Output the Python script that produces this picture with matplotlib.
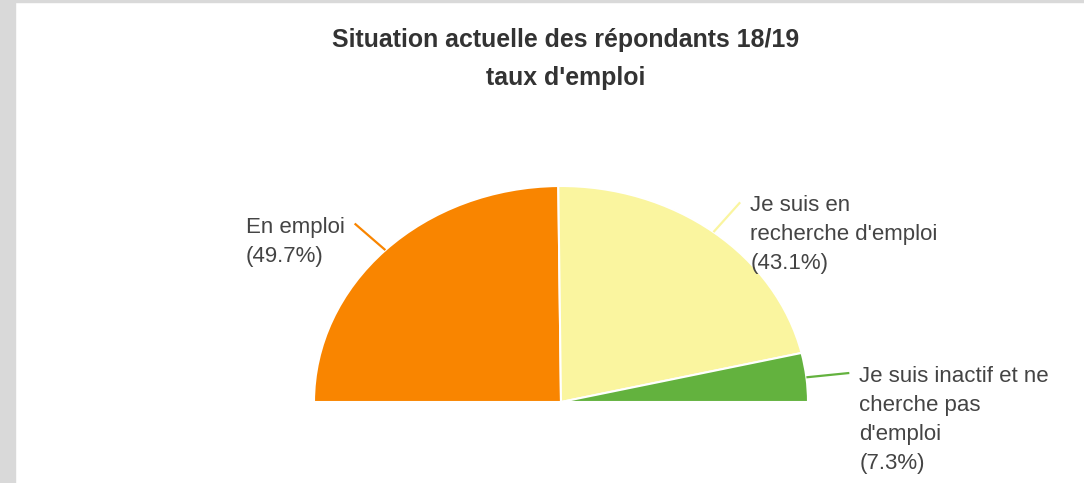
import numpy as np
import matplotlib.pyplot as plt
from matplotlib.patches import Rectangle

# data
labels = ["En emploi", "Je suis en\nrecherche d'emploi", "Je suis inactif et ne\ncherche pas\nd'emploi"]
values = [49.7, 43.1, 7.3]
colors = ["#f98500", "#faf59f", "#63b23e"]
title_lines = ["Situation actuelle des répondants 18/19", "taux d'emploi"]

W, H = 1084, 483
cx, cy = 561, 402      # pie centre in pixels (from top)
rx, ry = 247, 216      # the pie is drawn a bit wider than tall

plt.rcParams['font.family'] = ['Liberation Sans', 'DejaVu Sans']

fig = plt.figure(figsize=(W / 100, H / 100), dpi=100)
ax = fig.add_axes([0, 0, 1, 1])

# half pie: add an invisible wedge as large as the total
total = sum(values)
wedges, _ = ax.pie(values + [total], colors=colors + ["none"], startangle=180,
                   counterclock=False,
                   wedgeprops=dict(edgecolor="white", linewidth=1.5))
wedges[-1].set_edgecolor("none")
ax.set_aspect("auto")
ax.set_xlim(-cx / rx, (W - cx) / rx)
ax.set_ylim(-(H - cy) / ry, cy / ry)
ax.axis("off")

# leader lines and labels
start = 180.0
for lab, v, c in zip(labels, values, colors):
    span = 180.0 * v / total
    mid = np.deg2rad(start - span / 2)
    start -= span
    x0, y0 = np.cos(mid), np.sin(mid)
    x1, y1 = 1.175 * np.cos(mid), 1.175 * np.sin(mid)
    ax.plot([x0, x1], [y0, y1], color=c, lw=1.6, solid_capstyle="butt")
    txt = "%s\n(%.1f%%)" % (lab, v)
    dx = 10 / rx
    ty = y1 + 7 / ry
    if x1 < 0:
        ax.text(x1 - dx, ty, txt, ha="right", va="top", multialignment="left",
                fontsize=16, color="#444444", linespacing=1.5)
    else:
        ax.text(x1 + dx, ty, txt, ha="left", va="top", multialignment="left",
                fontsize=16, color="#444444", linespacing=1.5)

for i, t in enumerate(title_lines):
    fig.text(566 / W, 1 - (40 + 38 * i) / H, t, ha="center", va="center",
             fontsize=17.9, fontweight="bold", color="#333333")

# grey frame of the screenshot
fig.patches.append(Rectangle((0, 0), 15 / W, 1, transform=fig.transFigure,
                             color="#d9d9d9", zorder=5))
fig.patches.append(Rectangle((0, 1 - 2 / H), 1, 2 / H, transform=fig.transFigure,
                             color="#d9d9d9", zorder=5))

fig.savefig("out.png", dpi=100)
